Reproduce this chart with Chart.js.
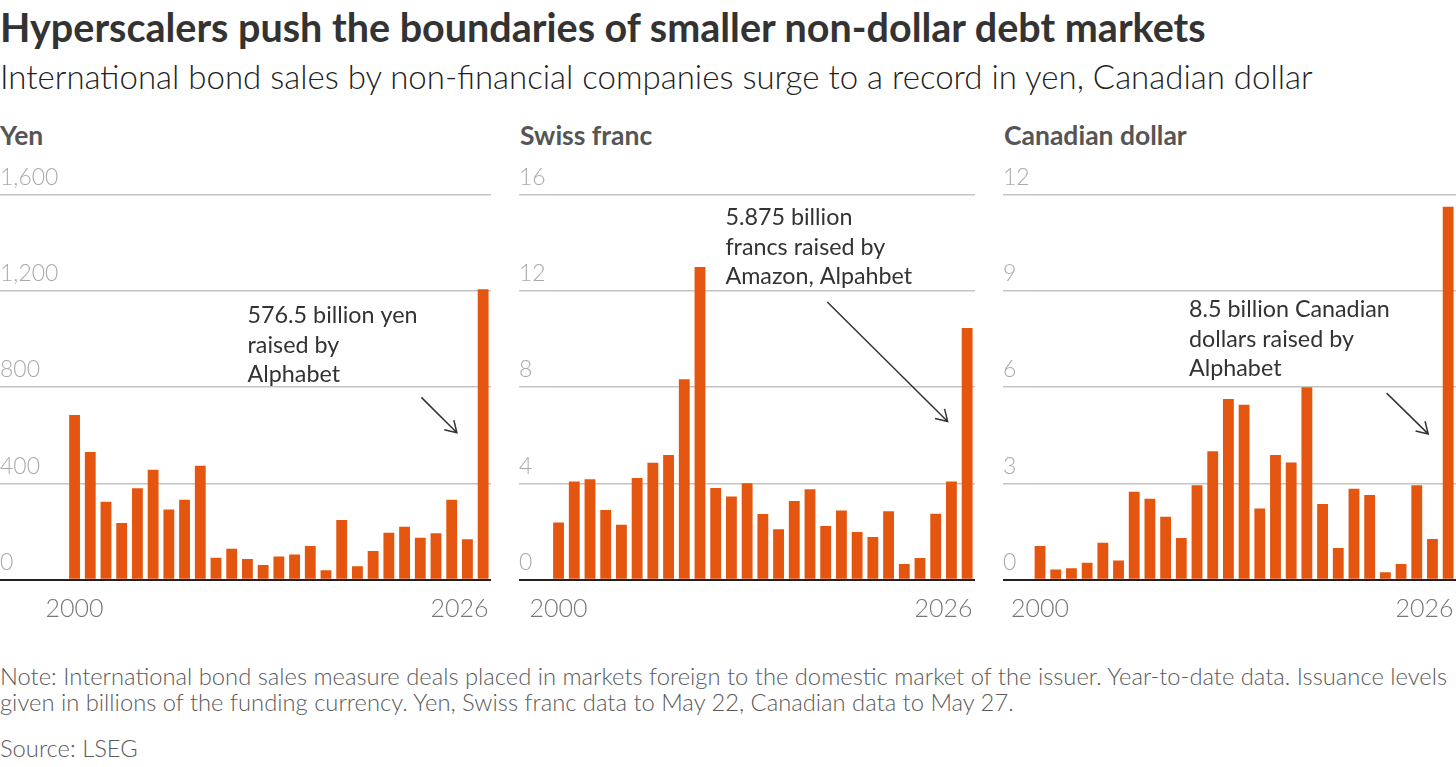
<!DOCTYPE html>
<html>
<head>
<meta charset="utf-8">
<script src="https://cdn.jsdelivr.net/npm/chart.js@4.4.1/dist/chart.umd.min.js"></script>
<style>
  body { margin: 0; background: #fff; width: 1456px; height: 767px; overflow: hidden; position: relative; font-family: Lato, sans-serif; }
  .txt { position: absolute; left: 0; line-height: 1; white-space: nowrap; }
  #title { top: 7px; font-size: 39.5px; font-weight: 700; color: #333; }
  #subtitle { top: 60px; font-size: 33px; font-weight: 300; color: #222; }
  .panel { top: 121.5px; font-size: 26.5px; font-weight: 700; color: #555; }
  #note { top: 662.5px; font-size: 23.75px; font-weight: 300; color: #5a5a5a; line-height: 26.5px; }
  #source { top: 737px; font-size: 23.75px; font-weight: 300; color: #5a5a5a; }
  canvas { position: absolute; top: 160px; }
</style>
</head>
<body>
<div id="title" class="txt">Hyperscalers push the boundaries of smaller non-dollar debt markets</div>
<div id="subtitle" class="txt">International bond sales by non-financial companies surge to a record in yen, Canadian dollar</div>
<div class="txt panel" style="left:0">Yen</div>
<div class="txt panel" style="left:520px">Swiss franc</div>
<div class="txt panel" style="left:1004px">Canadian dollar</div>
<canvas id="yenChart" width="491" height="470" style="left:0"></canvas>
<canvas id="chfChart" width="456" height="470" style="left:519px"></canvas>
<canvas id="cadChart" width="453" height="470" style="left:1003px"></canvas>
<div id="note" class="txt">Note: International bond sales measure deals placed in markets foreign to the domestic market of the issuer. Year-to-date data. Issuance levels<br>given in billions of the funding currency. Yen, Swiss franc data to May 22, Canadian data to May 27.</div>
<div id="source" class="txt">Source: LSEG</div>
<script>
const years = ['2000', '2001', '2002', '2003', '2004', '2005', '2006', '2007', '2008', '2009',
    '2010', '2011', '2012', '2013', '2014', '2015', '2016', '2017', '2018', '2019',
    '2020', '2021', '2022', '2023', '2024', '2025', '2026'];

// billions of yen
const yenValues = [684, 530, 324, 235, 380, 456, 291, 332, 473, 91, 129, 86, 61, 96, 105, 140, 39, 248, 56, 119, 195, 220, 174, 193, 332, 168, 1206];
// billions of Swiss francs
const chfValues = [2.37, 4.08, 4.17, 2.89, 2.28, 4.22, 4.86, 5.18, 8.32, 12.98, 3.81, 3.45, 4.0, 2.73, 2.09, 3.27, 3.75, 2.23, 2.87, 1.98, 1.77, 2.84, 0.65, 0.9, 2.74, 4.08, 10.45];
// billions of Canadian dollars
const cadValues = [1.05, 0.32, 0.36, 0.53, 1.15, 0.6, 2.74, 2.52, 1.96, 1.3, 2.94, 4.0, 5.63, 5.45, 2.22, 3.88, 3.65, 5.99, 2.36, 0.99, 2.83, 2.64, 0.23, 0.49, 2.94, 1.27, 11.61];

const yenTicks = [0, 400, 800, 1200, 1600];
const chfTicks = [0, 4, 8, 12, 16];
const cadTicks = [0, 3, 6, 9, 12];

const yenNote = ['576.5 billion yen', 'raised by', 'Alphabet'];
const chfNote = ['5.875 billion', 'francs raised by', 'Amazon, Alpahbet'];
const cadNote = ['8.5 billion Canadian', 'dollars raised by', 'Alphabet'];

const barColor = '#e4560f';

// year labels under the axis and the callout text + arrow
const calloutPlugin = {
    id: 'callout',
    afterDatasetsDraw(chart, args, opts) {
        const ctx = chart.ctx;
        const x = chart.scales.x;
        const y = chart.scales.y;
        const meta = chart.getDatasetMeta(0);
        ctx.save();

        ctx.font = '300 25px Lato';
        ctx.fillStyle = '#777';
        ctx.textBaseline = 'alphabetic';
        const base = y.getPixelForValue(0) + 37;
        ctx.textAlign = 'center';
        ctx.fillText(years[0], x.getPixelForValue(0), base);
        const last = meta.data[meta.data.length - 1];
        ctx.textAlign = 'right';
        ctx.fillText(years[years.length - 1], last.x + last.width / 2, base);

        ctx.font = '400 23.3px Lato';
        ctx.fillStyle = '#333';
        ctx.textAlign = 'left';
        const tx = x.getPixelForValue(opts.textAt[0]);
        const ty = y.getPixelForValue(opts.textAt[1]);
        opts.lines.forEach((line, i) => ctx.fillText(line, tx, ty + i * 29.5));

        const x1 = x.getPixelForValue(opts.arrowFrom[0]);
        const y1 = y.getPixelForValue(opts.arrowFrom[1]);
        const x2 = x.getPixelForValue(opts.arrowTo[0]);
        const y2 = y.getPixelForValue(opts.arrowTo[1]);
        const a = Math.atan2(y2 - y1, x2 - x1);
        ctx.strokeStyle = '#333';
        ctx.lineWidth = 1.5;
        ctx.beginPath();
        ctx.moveTo(x1, y1);
        ctx.lineTo(x2, y2);
        ctx.moveTo(x2 - 13 * Math.cos(a - 0.55), y2 - 13 * Math.sin(a - 0.55));
        ctx.lineTo(x2, y2);
        ctx.lineTo(x2 - 13 * Math.cos(a + 0.55), y2 - 13 * Math.sin(a + 0.55));
        ctx.stroke();
        ctx.restore();
    }
};

function makePanel(id, values, ticks, axisWidth, note) {
    return new Chart(document.getElementById(id).getContext('2d'), {
        type: 'bar',
        data: {
            labels: years,
            datasets: [{
                data: values,
                backgroundColor: barColor,
                borderWidth: 0,
                barPercentage: 0.69,
                categoryPercentage: 1
            }]
        },
        options: {
            responsive: false,
            animation: false,
            layout: { padding: { top: 34.3, bottom: 50.3, left: 0, right: 0 } },
            plugins: {
                legend: { display: false },
                tooltip: { enabled: false },
                callout: note
            },
            scales: {
                x: {
                    z: 1,
                    grid: { display: false, drawTicks: false },
                    ticks: { display: false },
                    border: { display: true, color: '#222', width: 2 }
                },
                y: {
                    min: ticks[0],
                    max: ticks[ticks.length - 1],
                    afterBuildTicks: scale => { scale.ticks = ticks.map(v => ({ value: v })); },
                    afterFit: scale => { scale.width = axisWidth; },
                    border: { display: false },
                    grid: {
                        color: c => (c.tick && c.tick.value === 0) ? '#222' : '#c4c4c4',
                        lineWidth: c => (c.tick && c.tick.value === 0) ? 2 : 1.5,
                        tickLength: axisWidth,
                        drawTicks: true
                    },
                    ticks: {
                        crossAlign: 'far',
                        padding: 0,
                        labelOffset: -17,
                        color: '#aaa',
                        font: { family: 'Lato', size: 23, weight: 300 },
                        callback: v => v.toLocaleString('en-US')
                    }
                }
            }
        },
        plugins: [calloutPlugin]
    });
}

makePanel('yenChart', yenValues, yenTicks, 66.7, {
    lines: yenNote, textAt: [11.01, 1065], arrowFrom: [22.07, 757], arrowTo: [24.33, 610]
});
makePanel('chfChart', chfValues, chfTicks, 31.7, {
    lines: chfNote, textAt: [10.62, 14.71], arrowFrom: [17.1, 11.53], arrowTo: [24.76, 6.57]
});
makePanel('cadChart', cadValues, cadTicks, 29.2, {
    lines: cadNote, textAt: [9.49, 8.17], arrowFrom: [22.08, 5.81], arrowTo: [24.73, 4.54]
});
</script>
</body>
</html>
